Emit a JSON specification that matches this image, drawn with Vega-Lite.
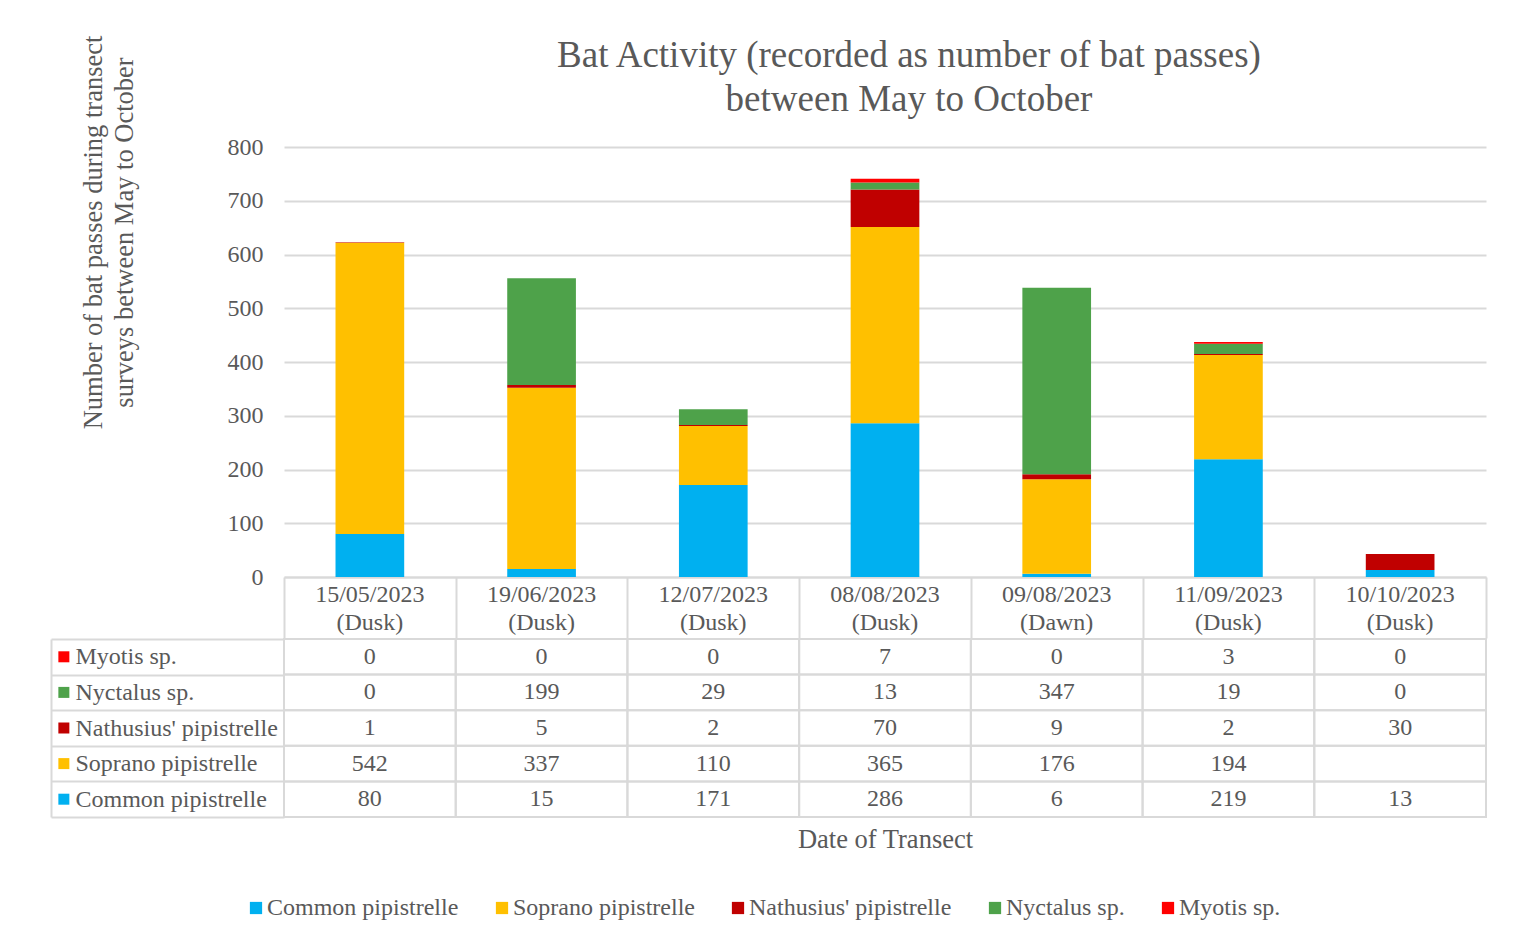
{
  "$schema": "https://vega.github.io/schema/vega-lite/v6.json",
  "background": "white",
  "padding": {"left": 50, "top": 35, "right": 28, "bottom": 5},
  "spacing": -13,
  "config": {
    "font": "Liberation Serif",
    "view": {"stroke": null},
    "axis": {"labelFont": "Liberation Serif", "titleFont": "Liberation Serif", "labelColor": "#595959", "titleColor": "#595959", "labelFontSize": 24, "titleFontSize": 26.5, "titleFontWeight": "normal", "labelLimit": 0},
    "legend": {"labelFont": "Liberation Serif", "labelColor": "#595959", "labelFontSize": 24, "labelLimit": 0}
  },
  "data": {"values": [
    {"date": "15/05/2023 (Dusk)", "species": "Common pipistrelle", "count": 80},
    {"date": "15/05/2023 (Dusk)", "species": "Soprano pipistrelle", "count": 542},
    {"date": "15/05/2023 (Dusk)", "species": "Nathusius' pipistrelle", "count": 1},
    {"date": "15/05/2023 (Dusk)", "species": "Nyctalus sp.", "count": 0},
    {"date": "15/05/2023 (Dusk)", "species": "Myotis sp.", "count": 0},
    {"date": "19/06/2023 (Dusk)", "species": "Common pipistrelle", "count": 15},
    {"date": "19/06/2023 (Dusk)", "species": "Soprano pipistrelle", "count": 337},
    {"date": "19/06/2023 (Dusk)", "species": "Nathusius' pipistrelle", "count": 5},
    {"date": "19/06/2023 (Dusk)", "species": "Nyctalus sp.", "count": 199},
    {"date": "19/06/2023 (Dusk)", "species": "Myotis sp.", "count": 0},
    {"date": "12/07/2023 (Dusk)", "species": "Common pipistrelle", "count": 171},
    {"date": "12/07/2023 (Dusk)", "species": "Soprano pipistrelle", "count": 110},
    {"date": "12/07/2023 (Dusk)", "species": "Nathusius' pipistrelle", "count": 2},
    {"date": "12/07/2023 (Dusk)", "species": "Nyctalus sp.", "count": 29},
    {"date": "12/07/2023 (Dusk)", "species": "Myotis sp.", "count": 0},
    {"date": "08/08/2023 (Dusk)", "species": "Common pipistrelle", "count": 286},
    {"date": "08/08/2023 (Dusk)", "species": "Soprano pipistrelle", "count": 365},
    {"date": "08/08/2023 (Dusk)", "species": "Nathusius' pipistrelle", "count": 70},
    {"date": "08/08/2023 (Dusk)", "species": "Nyctalus sp.", "count": 13},
    {"date": "08/08/2023 (Dusk)", "species": "Myotis sp.", "count": 7},
    {"date": "09/08/2023 (Dawn)", "species": "Common pipistrelle", "count": 6},
    {"date": "09/08/2023 (Dawn)", "species": "Soprano pipistrelle", "count": 176},
    {"date": "09/08/2023 (Dawn)", "species": "Nathusius' pipistrelle", "count": 9},
    {"date": "09/08/2023 (Dawn)", "species": "Nyctalus sp.", "count": 347},
    {"date": "09/08/2023 (Dawn)", "species": "Myotis sp.", "count": 0},
    {"date": "11/09/2023 (Dusk)", "species": "Common pipistrelle", "count": 219},
    {"date": "11/09/2023 (Dusk)", "species": "Soprano pipistrelle", "count": 194},
    {"date": "11/09/2023 (Dusk)", "species": "Nathusius' pipistrelle", "count": 2},
    {"date": "11/09/2023 (Dusk)", "species": "Nyctalus sp.", "count": 19},
    {"date": "11/09/2023 (Dusk)", "species": "Myotis sp.", "count": 3},
    {"date": "10/10/2023 (Dusk)", "species": "Common pipistrelle", "count": 13},
    {"date": "10/10/2023 (Dusk)", "species": "Soprano pipistrelle", "count": null},
    {"date": "10/10/2023 (Dusk)", "species": "Nathusius' pipistrelle", "count": 30},
    {"date": "10/10/2023 (Dusk)", "species": "Nyctalus sp.", "count": 0},
    {"date": "10/10/2023 (Dusk)", "species": "Myotis sp.", "count": 0}
  ]},
  "resolve": {"scale": {"color": "independent"}},
  "vconcat": [
    {
      "width": 1202,
      "height": 430,
      "title": {"text": ["Bat Activity (recorded as number of bat passes)", "between May to October"], "font": "Liberation Serif", "fontSize": 37, "fontWeight": "normal", "color": "#595959", "frame": "group", "anchor": "middle", "dx": 24, "lineHeight": 44, "offset": -84},
      "layer": [
        {
          "transform": [{"calculate": "indexof(['Common pipistrelle', 'Soprano pipistrelle', \"Nathusius' pipistrelle\", 'Nyctalus sp.', 'Myotis sp.'], datum.species)", "as": "stackOrder"}],
          "mark": {"type": "bar"},
          "encoding": {
            "x": {"field": "date", "type": "nominal",
              "sort": ["15/05/2023 (Dusk)", "19/06/2023 (Dusk)", "12/07/2023 (Dusk)", "08/08/2023 (Dusk)", "09/08/2023 (Dawn)", "11/09/2023 (Dusk)", "10/10/2023 (Dusk)"],
              "scale": {"paddingInner": 0.6, "paddingOuter": 0.3},
              "axis": {"title": null, "orient": "bottom", "labelExpr": "split(datum.label, ' ')", "labelAngle": 0, "labelLineHeight": 28, "labelBaseline": "top", "ticks": false, "domain": false, "labelPadding": 5}},
            "y": {"field": "count", "type": "quantitative", "stack": "zero",
              "scale": {"domain": [0, 800]},
              "axis": {"values": [0, 100, 200, 300, 400, 500, 600, 700, 800], "title": ["Number of bat passes during transect", "surveys between May to October"], "titleLineHeight": 31, "titleX": -177, "titleY": 85, "titleAngle": -90, "titleAlign": "center", "titleBaseline": "bottom", "domain": false, "ticks": false, "labelPadding": 21, "gridColor": "#d9d9d9", "gridWidth": 2}},
            "order": {"field": "stackOrder", "type": "quantitative"},
            "color": {"field": "species", "type": "nominal",
              "sort": ["Common pipistrelle", "Soprano pipistrelle", "Nathusius' pipistrelle", "Nyctalus sp.", "Myotis sp."],
              "scale": {"domain": ["Common pipistrelle", "Soprano pipistrelle", "Nathusius' pipistrelle", "Nyctalus sp.", "Myotis sp."], "range": ["#00B0F0", "#FFC000", "#C00000", "#4EA24A", "#FF0000"]},
              "legend": null}
          }
        },
        {
          "mark": {"type": "bar", "opacity": 0},
          "encoding": {
            "x": {"field": "date", "type": "nominal",
              "sort": ["15/05/2023 (Dusk)", "19/06/2023 (Dusk)", "12/07/2023 (Dusk)", "08/08/2023 (Dusk)", "09/08/2023 (Dawn)", "11/09/2023 (Dusk)", "10/10/2023 (Dusk)"],
              "scale": {"paddingInner": 0, "paddingOuter": 0},
              "axis": {"title": null, "orient": "bottom", "labels": false, "tickSize": 61, "tickBand": "extent", "tickColor": "#d9d9d9", "tickWidth": 2, "domainColor": "#d9d9d9", "domainWidth": 2}},
            "y": {"datum": 0}
          }
        }
      ],
      "resolve": {"scale": {"x": "independent"}, "axis": {"x": "independent"}}
    },
    {
      "width": 1202,
      "height": 178,
      "encoding": {
        "x": {"field": "date", "type": "nominal",
          "sort": ["15/05/2023 (Dusk)", "19/06/2023 (Dusk)", "12/07/2023 (Dusk)", "08/08/2023 (Dusk)", "09/08/2023 (Dawn)", "11/09/2023 (Dusk)", "10/10/2023 (Dusk)"],
          "scale": {"paddingInner": 0, "paddingOuter": 0},
          "axis": {"title": "Date of Transect", "labels": false, "ticks": false, "domain": false, "titlePadding": 9}}
      },
      "layer": [
        {
          "mark": {"type": "rect", "fill": "transparent", "stroke": "#d9d9d9", "strokeWidth": 2},
          "encoding": {
            "y": {"field": "species", "type": "nominal",
              "sort": ["Myotis sp.", "Nyctalus sp.", "Nathusius' pipistrelle", "Soprano pipistrelle", "Common pipistrelle"],
              "scale": {"paddingInner": 0, "paddingOuter": 0},
              "axis": {"title": null, "orient": "left", "domain": false, "tickSize": 233, "tickBand": "extent", "tickColor": "#d9d9d9", "tickWidth": 2, "labelAlign": "left", "labelPadding": -24, "labelColor": "#595959"}}
          }
        },
        {
          "transform": [{"filter": "isValid(datum.count)"}],
          "mark": {"type": "text", "fontSize": 24, "color": "#595959", "font": "Liberation Serif"},
          "encoding": {
            "y": {"field": "species", "type": "nominal",
              "sort": ["Myotis sp.", "Nyctalus sp.", "Nathusius' pipistrelle", "Soprano pipistrelle", "Common pipistrelle"],
              "axis": {"title": null, "orient": "left", "offset": 233, "labels": false, "ticks": false, "domain": true, "domainColor": "#d9d9d9", "domainWidth": 2}},
            "text": {"field": "count", "type": "quantitative"}
          }
        },
        {
          "transform": [{"filter": "datum.date === '15/05/2023 (Dusk)'"}],
          "mark": {"type": "point", "shape": "square", "filled": true, "size": 121, "opacity": 1, "xOffset": -306},
          "encoding": {
            "y": {"field": "species", "type": "nominal",
              "sort": ["Myotis sp.", "Nyctalus sp.", "Nathusius' pipistrelle", "Soprano pipistrelle", "Common pipistrelle"],
              "axis": null},
            "color": {"field": "species", "type": "nominal",
              "sort": ["Common pipistrelle", "Soprano pipistrelle", "Nathusius' pipistrelle", "Nyctalus sp.", "Myotis sp."],
              "scale": {"domain": ["Common pipistrelle", "Soprano pipistrelle", "Nathusius' pipistrelle", "Nyctalus sp.", "Myotis sp."], "range": ["#00B0F0", "#FFC000", "#C00000", "#4EA24A", "#FF0000"]},
              "legend": {"orient": "none", "legendX": -40, "legendY": 257, "direction": "horizontal", "title": null, "symbolType": "square", "symbolSize": 150, "symbolStrokeWidth": 0, "columnPadding": 31, "labelOffset": -1}}
          }
        }
      ],
      "resolve": {"axis": {"y": "independent"}}
    }
  ]
}
